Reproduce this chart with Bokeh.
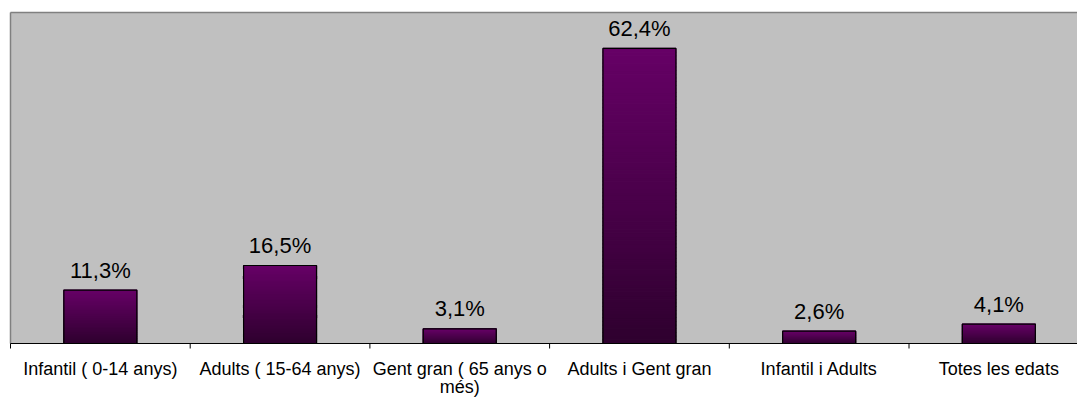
from bokeh.plotting import figure
from bokeh.models import Range1d, ColumnDataSource
from bokeh.core.properties import value
from bokeh.embed import file_html
from bokeh.resources import INLINE

# Share of activities by target age group
categories = [
    "Infantil ( 0-14 anys)",
    "Adults ( 15-64 anys)",
    "Gent gran ( 65 anys o\nmés)",
    "Adults i Gent gran",
    "Infantil i Adults",
    "Totes les edats",
]
values = [11.3, 16.5, 3.1, 62.4, 2.6, 4.1]
value_labels = ["11,3%", "16,5%", "3,1%", "62,4%", "2,6%", "4,1%"]

FONT = "Liberation Sans"
Y_TOP = 70            # value at the top edge of the grey plot area
PX_X = 179.7          # pixels per category
PX_Y = 331 / Y_TOP    # pixels per percentage point
W, H = 1077, 397
LEFT_PAD, TOP_PAD = 8, 10

x0 = -2 / PX_X
x1 = x0 + (W - LEFT_PAD) / PX_X
y1 = Y_TOP + 2 / PX_Y
y0 = y1 - (H - TOP_PAD) / PX_Y

n = len(categories)
centers = [i + 0.5 for i in range(n)]
half_w = 0.203

TOP_RGB = (0x66, 0x00, 0x66)
BOTTOM_RGB = (0x2E, 0x00, 0x2E)


def mix(t):
    r, g, b = (round(BOTTOM_RGB[k] + (TOP_RGB[k] - BOTTOM_RGB[k]) * t) for k in range(3))
    return f"#{r:02x}{g:02x}{b:02x}"


p = figure(
    width=W, height=H,
    x_range=Range1d(x0, x1), y_range=Range1d(y0, y1),
    output_backend="svg", toolbar_location=None,
    min_border_left=LEFT_PAD, min_border_right=0, min_border_top=TOP_PAD, min_border_bottom=0,
)
p.axis.visible = False
p.grid.visible = False
p.outline_line_color = None
p.background_fill_color = "white"
p.border_fill_color = "white"

# grey plot area with its top/left border
p.quad(left=0, right=x1, bottom=0, top=Y_TOP, fill_color="#C0C0C0", line_color=None)
p.segment(x0=[0, 0], y0=[Y_TOP, 0], x1=[x1, 0], y1=[Y_TOP, Y_TOP],
          line_color="#808080", line_width=1.5)

# vertical gradient per bar, built from thin horizontal strips
N = 80
left, right, bottom, top, colors = [], [], [], [], []
for c, v in zip(centers, values):
    for k in range(N):
        left.append(c - half_w)
        right.append(c + half_w)
        bottom.append(v * k / N)
        top.append(v * (k + 1) / N)
        colors.append(mix((k + 0.5) / N))
strips = ColumnDataSource(dict(left=left, right=right, bottom=bottom, top=top, color=colors))
p.quad(left="left", right="right", bottom="bottom", top="top", source=strips,
       fill_color="color", line_color="color", line_width=1.2)

bars = ColumnDataSource(dict(x=centers, top=values, label=value_labels))
p.vbar(x="x", top="top", bottom=0, width=2 * half_w, source=bars,
       fill_color=None, line_color="black", line_width=1.2)

p.text(x="x", y="top", text="label", source=bars,
       text_align="center", text_baseline="alphabetic", y_offset=-20,
       text_font=value(FONT), text_font_size="22px", text_color="black")

# category axis: baseline, boundary ticks and names
bounds = list(range(n + 1))
p.segment(x0=0, y0=0, x1=x1, y1=0, line_color="black", line_width=1.2)
p.segment(x0=bounds, y0=[0] * len(bounds), x1=bounds, y1=[-5 / PX_Y] * len(bounds),
          line_color="black", line_width=1)

names = ColumnDataSource(dict(x=centers, y=[0] * n, text=categories))
p.text(x="x", y="y", text="text", source=names,
       text_align="center", text_baseline="top", y_offset=15, text_line_height=0.92,
       text_font=value(FONT), text_font_size="18px", text_color="black")

open("out.html", "w").write(file_html(p, INLINE))
